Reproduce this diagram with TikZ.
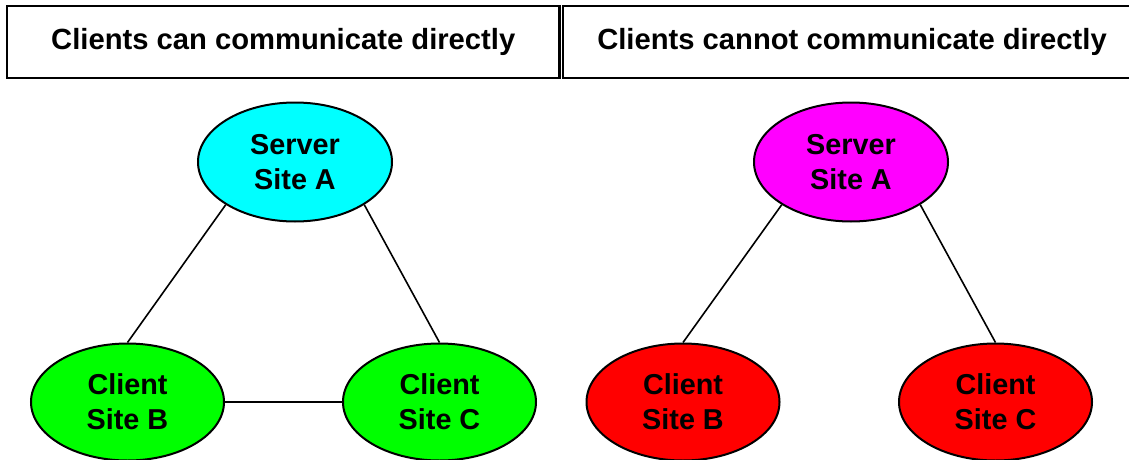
\documentclass[tikz,border=0pt]{standalone}
\usepackage{fontspec}
\setmainfont{Liberation Sans}
\usetikzlibrary{shapes.geometric}
\definecolor{srvcyan}{RGB}{0,255,255}
\definecolor{srvmag}{RGB}{255,0,255}
\definecolor{cligreen}{RGB}{0,255,0}
\definecolor{clired}{RGB}{255,0,0}
\begin{document}
\begin{tikzpicture}[x=1pt,y=-1pt,
  header/.style={draw=black, line width=2.4pt, rectangle, inner sep=0pt,
    font=\fontsize{29.2}{35}\selectfont\bfseries},
  site/.style={draw=black, line width=2pt, ellipse, inner sep=0pt, align=center,
    font=\fontsize{28.8}{35}\selectfont\bfseries},
  link/.style={draw=black, line width=1.6pt}]
\useasboundingbox (0,0) rectangle (1129,460);
\clip (0,0) rectangle (1129,460);
% headers
\node[header, minimum width=552.5pt, minimum height=72pt] (h1) at (283.25,42) {Clients can communicate directly};
\node[header, minimum width=578pt, minimum height=72pt] (h2) at (852,42) {Clients cannot communicate directly};
% left diagram
\node[site, fill=srvcyan, minimum width=194pt, minimum height=119pt] (sA) at (295,162) {Server\\Site A};
\node[site, fill=cligreen, minimum width=193pt, minimum height=117pt] (cB) at (127.5,402) {Client\\Site B};
\node[site, fill=cligreen, minimum width=193pt, minimum height=117pt] (cC) at (439.5,402) {Client\\Site C};
% right diagram
\node[site, fill=srvmag, minimum width=194pt, minimum height=119pt] (sA2) at (851,162) {Server\\Site A};
\node[site, fill=clired, minimum width=193pt, minimum height=117pt] (cB2) at (683,402) {Client\\Site B};
\node[site, fill=clired, minimum width=193pt, minimum height=117pt] (cC2) at (995.5,402) {Client\\Site C};
% connectors
\draw[link] (sA.south west) -- (cB.north);
\draw[link] (sA.south east) -- (cC.north);
\draw[link] (cB.east) -- (cC.west);
\draw[link] (sA2.south west) -- (cB2.north);
\draw[link] (sA2.south east) -- (cC2.north);
\end{tikzpicture}
\end{document}
